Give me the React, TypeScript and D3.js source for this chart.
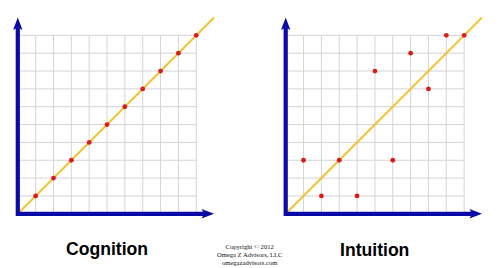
import React from "react";
import * as d3 from "d3";

// Grid units along each axis (0 at the origin, 10 cells, axes run to 11)
const gridTicks = [0, 1, 2, 3, 4, 5, 6, 7, 8, 9, 10];

// Cognition: every point sits on the diagonal
const cognitionX = [1, 2, 3, 4, 5, 6, 7, 8, 9, 10];
const cognitionY = [1, 2, 3, 4, 5, 6, 7, 8, 9, 10];

// Intuition: scattered around the diagonal
const intuitionX = [1, 2, 3, 4, 5, 6, 7, 8, 9, 10];
const intuitionY = [3, 1, 3, 1, 8, 3, 9, 7, 10, 10];

const titles = ["Cognition", "Intuition"];
const copyrightLines = ["Copyright © 2012", "Omega Z Advisors, LLC", "omegazadvisors.com"];

const AXIS_COLOR = "#0a0aa6";
const GRID_COLOR = "#d4d4d4";
const DIAG_COLOR = "#f1c232";
const DOT_COLOR = "#d81c1c";

type PanelProps = {
  originX: number;
  xs: number[];
  ys: number[];
  id: string;
};

function Panel({ originX, xs, ys, id }: PanelProps) {
  const originY = 213.8;
  const span = 196.3;
  const x = d3.scaleLinear().domain([0, 11]).range([originX, originX + span]);
  const y = d3.scaleLinear().domain([0, 11]).range([originY, originY - span]);
  const diag = d3
    .line<number>()
    .x((d) => x(d))
    .y((d) => y(d));

  const arrowLen = 12.5;
  const arrowHalf = 4.7;
  const notch = 2.5;

  const tipR = x(11);
  const tipU = y(11);

  return (
    <g>
      {/* grid */}
      {gridTicks.map((t) => (
        <line
          key={`v${id}${t}`}
          x1={x(t)}
          x2={x(t)}
          y1={y(0)}
          y2={y(10)}
          stroke={GRID_COLOR}
          strokeWidth={1}
        />
      ))}
      {gridTicks.map((t) => (
        <line
          key={`h${id}${t}`}
          x1={x(0)}
          x2={x(10)}
          y1={y(t)}
          y2={y(t)}
          stroke={GRID_COLOR}
          strokeWidth={1}
        />
      ))}

      {/* diagonal */}
      <path d={diag([0.1, 11]) || ""} stroke={DIAG_COLOR} strokeWidth={2} fill="none" />

      {/* axes with arrowheads */}
      <line x1={x(0)} x2={tipR - arrowLen + notch} y1={originY} y2={originY} stroke={AXIS_COLOR} strokeWidth={4.2} />
      <line x1={x(0)} x2={x(0)} y1={originY + 2.1} y2={tipU + arrowLen - notch} stroke={AXIS_COLOR} strokeWidth={4.2} />
      <path
        d={`M${tipR},${originY} L${tipR - arrowLen},${originY - arrowHalf} L${tipR - arrowLen + notch},${originY} L${tipR - arrowLen},${originY + arrowHalf} Z`}
        fill={AXIS_COLOR}
      />
      <path
        d={`M${x(0)},${tipU} L${x(0) - arrowHalf},${tipU + arrowLen} L${x(0)},${tipU + arrowLen - notch} L${x(0) + arrowHalf},${tipU + arrowLen} Z`}
        fill={AXIS_COLOR}
      />

      {/* points */}
      {xs.map((v, i) => (
        <circle key={`p${id}${i}`} cx={x(v)} cy={y(ys[i])} r={2.4} fill={DOT_COLOR} />
      ))}
    </g>
  );
}

export default function App() {
  return (
    <svg
      width={500}
      height={268}
      viewBox="0 0 500 268"
      style={{ position: "absolute", left: 0, top: 0, background: "#fff" }}
    >
      <rect width={500} height={268} fill="#fff" />
      <Panel originX={17.8} xs={cognitionX} ys={cognitionY} id="c" />
      <Panel originX={285.7} xs={intuitionX} ys={intuitionY} id="i" />

      <text
        x={107}
        y={254.5}
        textAnchor="middle"
        fontFamily="Liberation Sans, Arial, sans-serif"
        fontWeight="bold"
        fontSize={17.6}
        fill="#000"
      >
        {titles[0]}
      </text>
      <text
        x={374.7}
        y={256}
        textAnchor="middle"
        fontFamily="Liberation Sans, Arial, sans-serif"
        fontWeight="bold"
        fontSize={17.6}
        fill="#000"
      >
        {titles[1]}
      </text>

      {copyrightLines.map((l, i) => (
        <text
          key={l}
          x={249.7}
          y={249 + i * 8}
          textAnchor="middle"
          fontFamily="Liberation Serif, serif"
          fontSize={6.6}
          fill="#111"
        >
          {l}
        </text>
      ))}
    </svg>
  );
}
